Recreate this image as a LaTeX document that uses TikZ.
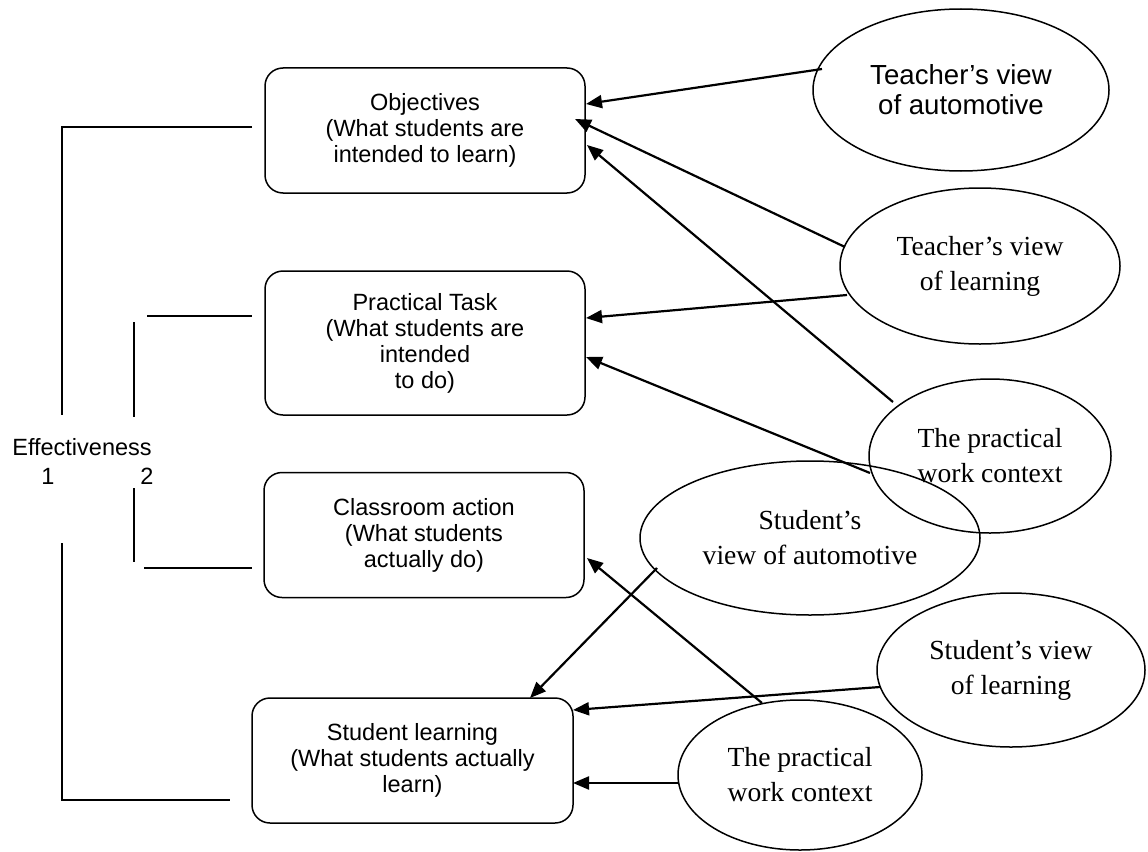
\documentclass[tikz,border=0pt]{standalone}
\usepackage{fontspec}
\setmainfont{Liberation Serif}
\newfontfamily\arialf{Liberation Sans}
\usetikzlibrary{arrows.meta,shapes.geometric}
\begin{document}
\begin{tikzpicture}[x=1pt,y=1pt,
  box/.style={draw, line width=1.5pt, rounded corners=18pt, minimum width=320pt, minimum height=125pt, align=center, inner sep=0pt, font=\arialf\fontsize{23.5}{26}\selectfont},
  ell/.style={draw, ellipse, line width=1.5pt, inner sep=0pt, align=center, font=\fontsize{27.6}{35}\selectfont},
  arr/.style={line width=2.2pt, -{Triangle[length=16pt,width=13pt]}},
  brk/.style={line width=1.4pt},
  lbl/.style={inner sep=0pt, font=\arialf\fontsize{23.5}{26}\selectfont}]
\useasboundingbox (0,0) rectangle (1148,-851);

% boxes
\node[box] (obj) at (425,-130.5) {Objectives\\(What students are\\intended to learn)};
\node[box, minimum height=144pt] (task) at (425,-343) {Practical Task\\(What students are\\intended\\to do)};
\node[box] (class) at (424,-535) {Classroom action\\(What students\\actually do)};
\node[box, minimum width=321pt] (learn) at (412.5,-760.5) {Student learning\\(What students actually\\learn)};

% ellipses
\node[ell, minimum width=296pt, minimum height=162pt, font=\arialf\fontsize{27.6}{30}\selectfont] (ta) at (961,-90) {Teacher’s view\\of automotive};
\node[ell, minimum width=280pt, minimum height=156pt] (tl) at (980,-266) {Teacher’s view\\of learning};
\node[ell, minimum width=242pt, minimum height=154pt] (pw1) at (990,-456) {The practical\\work context};
\node[ell, minimum width=340pt, minimum height=154pt] (sa) at (810,-538) {Student’s\\view of automotive};
\node[ell, minimum width=268pt, minimum height=154pt] (sl) at (1011,-670) {Student’s view\\of learning};
\node[ell, minimum width=244pt, minimum height=150pt] (pw2) at (800,-775) {The practical\\work context};

% labels
\node[lbl] (eff) at (82,-447) {Effectiveness};
\node[lbl] (one) at (48,-476) {1};
\node[lbl] (two) at (147,-476) {2};

% arrows
\draw[arr] ([shift={(-139,21)}]ta.center) -- ([shift={(161,26.5)}]obj.center);
\draw[arr] ([shift={(-135,19)}]tl.center) -- ([shift={(150,11.5)}]obj.center);
\draw[arr] ([shift={(-97,54)}]pw1.center) -- ([shift={(162,-14.5)}]obj.center);
\draw[arr] ([shift={(-133,-29)}]tl.center) -- ([shift={(161,25)}]task.center);
\draw[arr] ([shift={(-120,-17)}]pw1.center) -- ([shift={(161,-14)}]task.center);
\draw[arr] ([shift={(-38,72)}]pw2.center) -- ([shift={(163,-23)}]class.center);
\draw[arr] ([shift={(-153,-30)}]sa.center) -- ([shift={(117.5,62.5)}]learn.center);
\draw[arr] ([shift={(-131,-17)}]sl.center) -- ([shift={(160.5,50.5)}]learn.center);
\draw[arr] ([shift={(-121,-8)}]pw2.center) -- ([shift={(160.5,-22.5)}]learn.center);

% brackets
\draw[brk] (252,-127) -- (62,-127) -- (62,-415);
\draw[brk] (62,-543) -- (62,-800) -- (230,-800);
\draw[brk] (147,-316) -- (252,-316);
\draw[brk] (134,-322) -- (134,-417);
\draw[brk] (134,-488) -- (134,-562);
\draw[brk] (144,-568) -- (252,-568);
\end{tikzpicture}
\end{document}
